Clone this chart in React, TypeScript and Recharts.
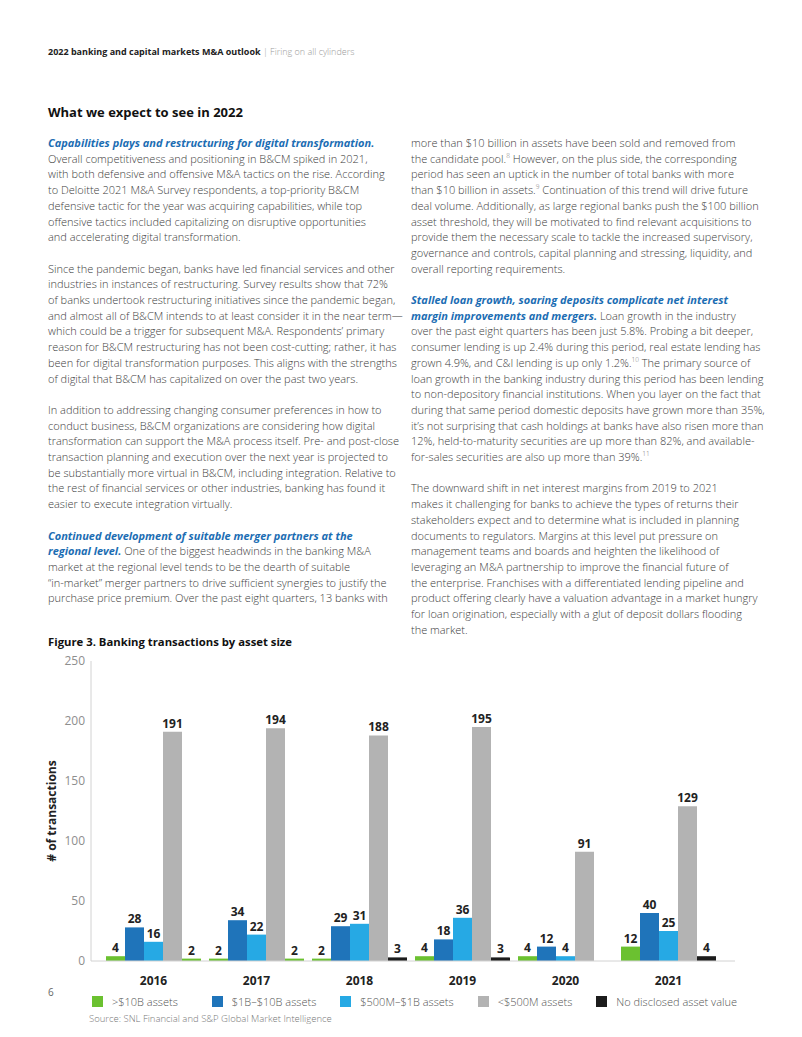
import React from "react";
import { BarChart, Bar, XAxis, YAxis, LabelList, Cell } from "recharts";

// chart values
const years = ["2016", "2017", "2018", "2019", "2020", "2021"];
const over10B = [4, 2, 2, 4, 4, 12];
const from1Bto10B = [28, 34, 29, 18, 12, 40];
const from500Mto1B = [16, 22, 31, 36, 4, 25];
const under500M = [191, 194, 188, 195, 91, 129];
const noDisclosed = [2, 2, 3, 3, 0, 4];
const yTicks = [0, 50, 100, 150, 200, 250];

const GREEN = "#6bc130";
const DARK_BLUE = "#1f74ba";
const LIGHT_BLUE = "#26a9e4";
const GRAY = "#b3b3b3";
const BLACK = "#1c1c1c";

// the source figure paints the first two "no disclosed" bars green
const noDisclosedFills = [GREEN, GREEN, BLACK, BLACK, BLACK, BLACK];

const series = [
  { key: "over10B", name: ">$10B assets", color: GREEN },
  { key: "from1Bto10B", name: "$1B–$10B assets", color: DARK_BLUE },
  { key: "from500Mto1B", name: "$500M–$1B assets", color: LIGHT_BLUE },
  { key: "under500M", name: "<$500M assets", color: GRAY },
  { key: "noDisclosed", name: "No disclosed asset value", color: BLACK },
];

const chartData = years.map((year, i) => ({
  year,
  over10B: over10B[i],
  from1Bto10B: from1Bto10B[i],
  from500Mto1B: from500Mto1B[i],
  under500M: under500M[i],
  noDisclosed: noDisclosed[i],
}));

// page copy, one entry per printed line; **..** = blue bold italic, ^n = footnote
const leftColumn = [
  [
    "**Capabilities plays and restructuring for digital transformation.**",
    "Overall competitiveness and positioning in B&CM spiked in 2021,",
    "with both defensive and offensive M&A tactics on the rise. According",
    "to Deloitte 2021 M&A Survey respondents, a top-priority B&CM",
    "defensive tactic for the year was acquiring capabilities, while top",
    "offensive tactics included capitalizing on disruptive opportunities",
    "and accelerating digital transformation.",
  ],
  [
    "Since the pandemic began, banks have led financial services and other",
    "industries in instances of restructuring. Survey results show that 72%",
    "of banks undertook restructuring initiatives since the pandemic began,",
    "and almost all of B&CM intends to at least consider it in the near term—",
    "which could be a trigger for subsequent M&A. Respondents’ primary",
    "reason for B&CM restructuring has not been cost-cutting; rather, it has",
    "been for digital transformation purposes. This aligns with the strengths",
    "of digital that B&CM has capitalized on over the past two years.",
  ],
  [
    "In addition to addressing changing consumer preferences in how to",
    "conduct business, B&CM organizations are considering how digital",
    "transformation can support the M&A process itself. Pre- and post-close",
    "transaction planning and execution over the next year is projected to",
    "be substantially more virtual in B&CM, including integration. Relative to",
    "the rest of financial services or other industries, banking has found it",
    "easier to execute integration virtually.",
  ],
  [
    "**Continued development of suitable merger partners at the**",
    "**regional level.** One of the biggest headwinds in the banking M&A",
    "market at the regional level tends to be the dearth of suitable",
    "“in-market” merger partners to drive sufficient synergies to justify the",
    "purchase price premium. Over the past eight quarters, 13 banks with",
  ],
];

const rightColumn = [
  [
    "more than $10 billion in assets have been sold and removed from",
    "the candidate pool.^8 However, on the plus side, the corresponding",
    "period has seen an uptick in the number of total banks with more",
    "than $10 billion in assets.^9 Continuation of this trend will drive future",
    "deal volume. Additionally, as large regional banks push the $100 billion",
    "asset threshold, they will be motivated to find relevant acquisitions to",
    "provide them the necessary scale to tackle the increased supervisory,",
    "governance and controls, capital planning and stressing, liquidity, and",
    "overall reporting requirements.",
  ],
  [
    "**Stalled loan growth, soaring deposits complicate net interest**",
    "**margin improvements and mergers.** Loan growth in the industry",
    "over the past eight quarters has been just 5.8%. Probing a bit deeper,",
    "consumer lending is up 2.4% during this period, real estate lending has",
    "grown 4.9%, and C&I lending is up only 1.2%.^10 The primary source of",
    "loan growth in the banking industry during this period has been lending",
    "to non-depository financial institutions. When you layer on the fact that",
    "during that same period domestic deposits have grown more than 35%,",
    "it’s not surprising that cash holdings at banks have also risen more than",
    "12%, held-to-maturity securities are up more than 82%, and available-",
    "for-sales securities are also up more than 39%.^11",
  ],
  [
    "The downward shift in net interest margins from 2019 to 2021",
    "makes it challenging for banks to achieve the types of returns their",
    "stakeholders expect and to determine what is included in planning",
    "documents to regulators. Margins at this level put pressure on",
    "management teams and boards and heighten the likelihood of",
    "leveraging an M&A partnership to improve the financial future of",
    "the enterprise. Franchises with a differentiated lending pipeline and",
    "product offering clearly have a valuation advantage in a market hungry",
    "for loan origination, especially with a glut of deposit dollars flooding",
    "the market.",
  ],
];

const FONT = "'Open Sans', 'Noto Sans', sans-serif";
const LINE = 15.7;

function renderLine(line: string) {
  const parts = line.split(/(\*\*[^*]+\*\*|\^\d+)/).filter(Boolean);
  return parts.map((p, i) => {
    if (p.startsWith("**")) {
      return (
        <span key={i} style={{ color: "#1b6db3", fontWeight: 700, fontStyle: "italic" }}>
          {p.slice(2, -2)}
        </span>
      );
    }
    if (p.startsWith("^")) {
      return (
        <sup key={i} style={{ fontSize: 6.5, lineHeight: 0, color: "#777" }}>
          {p.slice(1)}
        </sup>
      );
    }
    return <span key={i}>{p}</span>;
  });
}

function Column({ paragraphs, left }: { paragraphs: string[][]; left: number }) {
  return (
    <div
      style={{
        position: "absolute",
        left,
        top: 135,
        fontSize: 11,
        lineHeight: `${LINE}px`,
        color: "#3d3d3d",
        fontWeight: 300,
      }}
    >
      {paragraphs.map((para, pi) => (
        <div key={pi} style={{ marginBottom: LINE }}>
          {para.map((line, li) => (
            <div key={li} style={{ whiteSpace: "nowrap" }}>
              {renderLine(line)}
            </div>
          ))}
        </div>
      ))}
    </div>
  );
}

export default function App() {
  return (
    <div
      style={{
        position: "absolute",
        left: 0,
        top: 0,
        width: 802,
        height: 1037,
        background: "#fff",
        fontFamily: FONT,
        overflow: "hidden",
      }}
    >
      <div style={{ position: "absolute", left: 48, top: 45, fontSize: 9, lineHeight: "13px", whiteSpace: "nowrap" }}>
        <span style={{ fontWeight: 700, color: "#222" }}>2022 banking and capital markets M&amp;A outlook</span>
        <span style={{ color: "#9a9a9a", fontWeight: 300 }}> | Firing on all cylinders</span>
      </div>

      <div style={{ position: "absolute", left: 48, top: 103, fontSize: 13, lineHeight: "18px", fontWeight: 700, color: "#111" }}>
        What we expect to see in 2022
      </div>

      <Column paragraphs={leftColumn} left={48} />
      <Column paragraphs={rightColumn} left={411} />

      <div style={{ position: "absolute", left: 48, top: 634, fontSize: 11.3, lineHeight: "16px", fontWeight: 700, color: "#111" }}>
        Figure 3. Banking transactions by asset size
      </div>

      <div style={{ position: "absolute", left: 0, top: 640 }}>
        <BarChart
          width={802}
          height={370}
          data={chartData}
          margin={{ top: 21, right: 67, bottom: 19, left: 40 }}
          barGap={0}
          barSize={19}
        >
          <XAxis
            dataKey="year"
            height={30}
            axisLine={{ stroke: "#d2d2d2" }}
            tickLine={false}
            tickMargin={9}
            padding={{ left: 11, right: 15 }}
            tick={{ fill: "#222", fontSize: 12, fontWeight: 700 }}
          />
          <YAxis
            domain={[0, 250]}
            ticks={yTicks}
            width={51}
            axisLine={{ stroke: "#d2d2d2" }}
            tickLine={false}
            tickSize={4}
            tick={{ fill: "#8e8e8e", fontSize: 12 }}
            label={{
              value: "# of transactions",
              angle: -90,
              position: "insideLeft",
              offset: 12,
              style: { textAnchor: "middle", fontWeight: 700, fontSize: 12, fill: "#222" },
            }}
          />
          {series.map((s) => (
            <Bar key={s.key} dataKey={s.key} name={s.name} fill={s.color} isAnimationActive={false}>
              {s.key === "noDisclosed" &&
                noDisclosedFills.map((c, i) => <Cell key={i} fill={c} />)}
              <LabelList
                dataKey={s.key}
                position="top"
                offset={4}
                style={{ fill: "#222", fontSize: 12, fontWeight: 700 }}
              />
            </Bar>
          ))}
        </BarChart>
      </div>

      <div
        style={{
          position: "absolute",
          left: 92,
          top: 994,
          display: "flex",
          alignItems: "center",
          fontSize: 11,
          fontWeight: 300,
          color: "#555",
          whiteSpace: "nowrap",
        }}
      >
        {series.map((s, i) => (
          <div key={s.key} style={{ display: "flex", alignItems: "center", marginRight: i === 0 ? 34 : 24 }}>
            <span style={{ width: 11, height: 11, background: s.color, display: "inline-block", marginRight: 9 }} />
            {s.name}
          </div>
        ))}
      </div>

      <div style={{ position: "absolute", left: 89, top: 1012, fontSize: 9.5, lineHeight: "13px", color: "#777", fontWeight: 300 }}>
        Source: SNL Financial and S&amp;P Global Market Intelligence
      </div>

      <div style={{ position: "absolute", left: 48, top: 986, fontSize: 10, lineHeight: "13px", color: "#666" }}>6</div>
    </div>
  );
}
